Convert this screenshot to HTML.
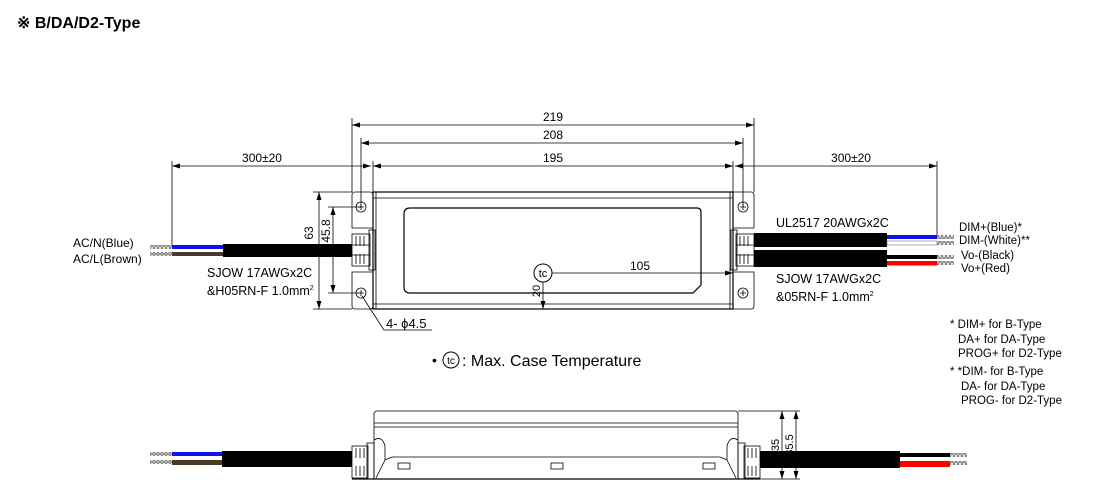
<!DOCTYPE html>
<html><head><meta charset="utf-8"><style>
html,body{margin:0;padding:0;background:#fff;}
svg{display:block;font-family:"Liberation Sans",Arial,sans-serif;}
</style></head><body>
<svg width="1100" height="500" viewBox="0 0 1100 500" xmlns="http://www.w3.org/2000/svg">
<defs>
<marker id="a" markerWidth="8" markerHeight="6" refX="8" refY="3" orient="auto-start-reverse" markerUnits="userSpaceOnUse"><path d="M0,0.5 L8,3 L0,5.5 z" fill="#000"/></marker>
<pattern id="s" width="4" height="4" patternUnits="userSpaceOnUse"><rect width="4" height="4" fill="#fff"/><circle cx="2" cy="2" r="1.3" fill="none" stroke="#444" stroke-width="0.8"/></pattern>
</defs>
<text x="17" y="28" font-size="16" font-weight="bold">※ B/DA/D2-Type</text>

<g stroke="#000" stroke-width="0.8" fill="none">
<line x1="352" y1="118" x2="352" y2="192"/>
<line x1="754" y1="118" x2="754" y2="192"/>
<line x1="361" y1="138" x2="361" y2="207"/>
<line x1="743" y1="138" x2="743" y2="207"/>
<line x1="373" y1="161" x2="373" y2="192"/>
<line x1="733" y1="161" x2="733" y2="192"/>
<line x1="172" y1="161" x2="172" y2="246"/>
<line x1="937" y1="161" x2="937" y2="236"/>
<line x1="352" y1="125" x2="754" y2="125" marker-start="url(#a)" marker-end="url(#a)"/>
<line x1="361" y1="143" x2="743" y2="143" marker-start="url(#a)" marker-end="url(#a)"/>
<line x1="373" y1="166" x2="733" y2="166" marker-start="url(#a)" marker-end="url(#a)"/>
<line x1="172" y1="166" x2="371" y2="166" marker-start="url(#a)" marker-end="url(#a)"/>
<line x1="735" y1="166" x2="937" y2="166" marker-start="url(#a)" marker-end="url(#a)"/>
<line x1="313" y1="192" x2="352" y2="192"/>
<line x1="313" y1="309" x2="352" y2="309"/>
<line x1="319" y1="192" x2="319" y2="309" marker-start="url(#a)" marker-end="url(#a)"/>
<line x1="328" y1="207" x2="361" y2="207"/>
<line x1="328" y1="293" x2="361" y2="293"/>
<line x1="333" y1="207" x2="333" y2="293" marker-start="url(#a)" marker-end="url(#a)"/>

<path d="M352,195 q0,-3 3,-3 h15 q3,0 3,3 v33 h-21 z"/>
<path d="M352,272 h21 v34 q0,3 -3,3 h-15 q-3,0 -3,-3 z"/>
<path d="M733,192 h18 q3,0 3,3 v33 h-21 z"/>
<path d="M733,272 h21 v34 q0,3 -3,3 h-18 z"/>
<rect x="373" y="192" width="360" height="117" stroke-width="1.2"/>
<line x1="376" y1="192" x2="376" y2="309"/>
<line x1="730" y1="192" x2="730" y2="309"/>
<line x1="373" y1="198" x2="733" y2="198"/>
<line x1="373" y1="304" x2="733" y2="304"/>
<path d="M410,208 H697 q4,0 4,4 V285 l-8,8 H410 q-6,0 -6,-6 V214 q0,-6 6,-6 z" stroke-width="1.2"/>
<circle cx="361" cy="207" r="5"/><circle cx="361" cy="293" r="5"/>
<circle cx="743" cy="207" r="5"/><circle cx="743" cy="293" r="5"/>
<path d="M358,207h6M361,204v6M358,293h6M361,290v6M740,207h6M743,204v6M740,293h6M743,290v6"/>
<rect x="352" y="234" width="18" height="32"/>
<rect x="369" y="230" width="6" height="40"/>
<path d="M356,236v10M360,236v10M364,236v10M356,254v10M360,254v10M364,254v10M352,245h18M352,255h18"/>
<rect x="736" y="234" width="18" height="32"/>
<rect x="731" y="230" width="6" height="40"/>
<path d="M740,236v10M744,236v10M748,236v10M740,254v10M744,254v10M748,254v10M736,245h18M736,255h18"/>

<circle cx="543" cy="273" r="9" stroke-width="1"/>
<line x1="552" y1="273" x2="733" y2="273" marker-end="url(#a)"/>
<line x1="543" y1="282" x2="543" y2="309" marker-end="url(#a)"/>
<path d="M362,296 L384,330 H432"/>
</g>

<rect x="223" y="244" width="129" height="13" fill="#000"/>
<rect x="172" y="245" width="51" height="4" fill="#1010ee"/>
<rect x="172" y="252" width="51" height="4" fill="#4a3a2a"/>
<rect x="150" y="245" width="22" height="4" fill="url(#s)"/>
<rect x="150" y="252" width="22" height="4" fill="url(#s)"/>
<rect x="754" y="233" width="133" height="14" fill="#000"/>
<rect x="754" y="250" width="133" height="17" fill="#000"/>
<rect x="887" y="235" width="50" height="4" fill="#1010ee"/>
<rect x="887" y="241" width="50" height="4" fill="#fff" stroke="#777" stroke-width="0.6"/>
<rect x="887" y="255" width="50" height="4" fill="#000"/>
<rect x="887" y="261" width="50" height="4.5" fill="#f00"/>
<rect x="937" y="235" width="17" height="4" fill="url(#s)"/><rect x="937" y="241" width="17" height="4" fill="url(#s)"/>
<rect x="937" y="255" width="17" height="4" fill="url(#s)"/><rect x="937" y="261" width="17" height="4" fill="url(#s)"/>

<g font-size="12" fill="#000">
<text x="553" y="121" text-anchor="middle">219</text>
<text x="553" y="139" text-anchor="middle">208</text>
<text x="553" y="162" text-anchor="middle">195</text>
<text x="262" y="162" text-anchor="middle">300±20</text>
<text x="851" y="162" text-anchor="middle">300±20</text>
<text x="640" y="270" text-anchor="middle">105</text>
<text transform="translate(313,233) rotate(-90)" text-anchor="middle">63</text>
<text transform="translate(330,231) rotate(-90)" text-anchor="middle">45.8</text>
<text transform="translate(540,291) rotate(-90)" text-anchor="middle" font-size="11">20</text>
<text x="543" y="277" text-anchor="middle" font-size="11">tc</text>
<text x="386" y="328" font-size="13">4- ϕ4.5</text>
<text x="73" y="247">AC/N(Blue)</text>
<text x="73" y="263">AC/L(Brown)</text>
<text x="207" y="277" font-size="12.5">SJOW 17AWGx2C</text>
<text x="207" y="295" font-size="12.5">&amp;H05RN-F 1.0mm<tspan font-size="7" dy="-5">2</tspan></text>
<text x="776" y="227" font-size="12.5">UL2517 20AWGx2C</text>
<text x="776" y="283" font-size="12.5">SJOW 17AWGx2C</text>
<text x="776" y="301" font-size="12.5">&amp;05RN-F 1.0mm<tspan font-size="7" dy="-5">2</tspan></text>
<g font-size="11.5">
<text x="959" y="231">DIM+(Blue)*</text>
<text x="959" y="244">DIM-(White)**</text>
<text x="961" y="259">Vo-(Black)</text>
<text x="961" y="272">Vo+(Red)</text>
<text x="950" y="328">* DIM+ for B-Type</text>
<text x="958" y="343">DA+ for DA-Type</text>
<text x="958" y="357">PROG+ for D2-Type</text>
<text x="950" y="375">* *DIM- for B-Type</text>
<text x="961" y="390">DA- for DA-Type</text>
<text x="961" y="404">PROG- for D2-Type</text>
</g>
<text x="432" y="365" font-size="14">•</text>
<circle cx="451" cy="360" r="8" fill="none" stroke="#000" stroke-width="1"/>
<text x="451" y="364" font-size="10" text-anchor="middle">tc</text>
<text x="462" y="366" font-size="16">: Max. Case Temperature</text>
</g>

<g stroke="#000" stroke-width="0.8" fill="none">
<path d="M374,479 V413 l2,-2 H736 l2,2 V479"/>
<line x1="374" y1="423" x2="738" y2="423"/>
<line x1="374" y1="427" x2="738" y2="427"/>
<path d="M374,440 q8,-5 11,6 V460 L392,457 H720 L727,460 V446 q3,-11 11,-6"/>
<path d="M385,460 L376,478 M727,460 L736,478"/>
<line x1="352" y1="479" x2="760" y2="479" stroke-width="1.2"/>
<rect x="398" y="463" width="12" height="6"/>
<rect x="551" y="463" width="12" height="6"/>
<rect x="703" y="463" width="12" height="6"/>
<rect x="352" y="446" width="16" height="32"/>
<rect x="367" y="443" width="7" height="36"/>
<path d="M356,448v10M360,448v10M364,448v10M356,466v10M360,466v10M364,466v10"/>
<rect x="744" y="446" width="16" height="32"/>
<rect x="738" y="443" width="7" height="36"/>
<path d="M748,448v10M752,448v10M756,448v10M748,466v10M752,466v10M756,466v10"/>
<line x1="738" y1="411" x2="800" y2="411"/>
<line x1="760" y1="479" x2="800" y2="479"/>
<line x1="782" y1="411" x2="782" y2="479" marker-start="url(#a)" marker-end="url(#a)"/>
<line x1="796" y1="411" x2="796" y2="479" marker-start="url(#a)" marker-end="url(#a)"/>
</g>
<rect x="222" y="451" width="130" height="16" fill="#000"/>
<rect x="172" y="452" width="50" height="4" fill="#1010ee"/>
<rect x="172" y="460" width="50" height="5" fill="#4a3a2a"/>
<rect x="150" y="452" width="22" height="4" fill="url(#s)"/>
<rect x="150" y="460" width="22" height="4" fill="url(#s)"/>
<rect x="760" y="451" width="140" height="17" fill="#000"/>
<rect x="900" y="453" width="50" height="4" fill="#000"/>
<rect x="900" y="461" width="50" height="6" fill="#f00"/>
<rect x="950" y="453" width="17" height="4" fill="url(#s)"/>
<rect x="950" y="461" width="17" height="4" fill="url(#s)"/>
<g font-size="11">
<text transform="translate(779,445) rotate(-90)" text-anchor="middle">35</text>
<text transform="translate(793,445) rotate(-90)" text-anchor="middle">35.5</text>
</g>
</svg>
</body></html>
